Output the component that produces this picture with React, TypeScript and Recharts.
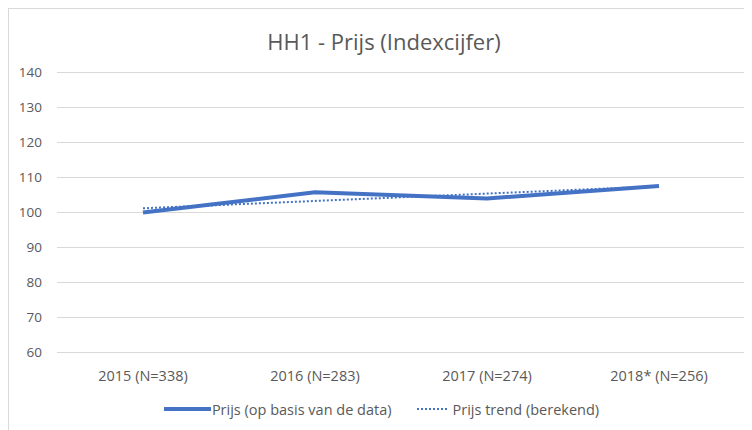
import React from "react";
import { LineChart, Line, XAxis, YAxis, CartesianGrid, Legend } from "recharts";

const categories = ["2015 (N=338)", "2016 (N=283)", "2017 (N=274)", "2018* (N=256)"];
const prijsData = [100, 105.8, 104, 107.6];
const prijsTrend = [101.2, 103.3, 105.4, 107.5];
const yTicks = [60, 70, 80, 90, 100, 110, 120, 130, 140];

const data = categories.map((cat, i) => ({
  cat,
  prijs: prijsData[i],
  trend: prijsTrend[i],
}));

const FONT = "'Open Sans', 'Noto Sans', sans-serif";
const GRAY = "#595959";
const BLUE = "#4472C4";

const renderLegend = () => (
  <div
    style={{
      display: "flex",
      justifyContent: "center",
      alignItems: "center",
      height: 24,
      fontFamily: FONT,
      fontSize: 14.5,
      color: GRAY,
      paddingLeft: 8,
    }}
  >
    <svg width={48} height={10} style={{ marginRight: 1 }}>
      <line x1={1} y1={5} x2={48} y2={5} stroke={BLUE} strokeWidth={4} />
    </svg>
    <span>Prijs (op basis van de data)</span>
    <svg width={32} height={10} style={{ marginLeft: 25, marginRight: 4 }}>
      <line x1={0} y1={5} x2={32} y2={5} stroke={BLUE} strokeWidth={2} strokeDasharray="2 2" />
    </svg>
    <span>Prijs trend (berekend)</span>
  </div>
);

export default function App() {
  return (
    <div
      style={{
        position: "relative",
        width: 744,
        height: 422,
        borderTop: "1px solid #d9d9d9",
        borderLeft: "1px solid #d9d9d9",
        boxSizing: "border-box",
        background: "#fff",
      }}
    >
      <div
        style={{
          position: "absolute",
          top: 17,
          left: 0,
          width: 750,
          textAlign: "center",
          fontFamily: FONT,
          fontSize: 22,
          color: GRAY,
        }}
      >
        HH1 - Prijs (Indexcijfer)
      </div>
      <LineChart
        width={743}
        height={421}
        data={data}
        margin={{ top: 63.5, right: 7, left: 0, bottom: 9 }}
      >
        <CartesianGrid vertical={false} stroke="#d9d9d9" />
        <XAxis
          dataKey="cat"
          axisLine={false}
          tickLine={false}
          tickSize={0}
          tickMargin={18}
          height={44.5}
          interval={0}
          padding={{ left: 86, right: 86 }}
          tick={{ fill: GRAY, fontSize: 14.5, fontFamily: FONT }}
        />
        <YAxis
          domain={[60, 140]}
          ticks={yTicks}
          axisLine={false}
          tickLine={false}
          tickSize={0}
          tickMargin={15}
          width={48}
          tick={{ fill: GRAY, fontSize: 13.5, fontFamily: FONT }}
        />
        <Legend verticalAlign="bottom" height={24} content={renderLegend} />
        <Line
          dataKey="prijs"
          name="Prijs (op basis van de data)"
          stroke={BLUE}
          strokeWidth={4}
          dot={false}
          type="linear"
          isAnimationActive={false}
        />
        <Line
          dataKey="trend"
          name="Prijs trend (berekend)"
          stroke={BLUE}
          strokeWidth={2}
          strokeDasharray="2 2"
          dot={false}
          type="linear"
          isAnimationActive={false}
        />
      </LineChart>
    </div>
  );
}
